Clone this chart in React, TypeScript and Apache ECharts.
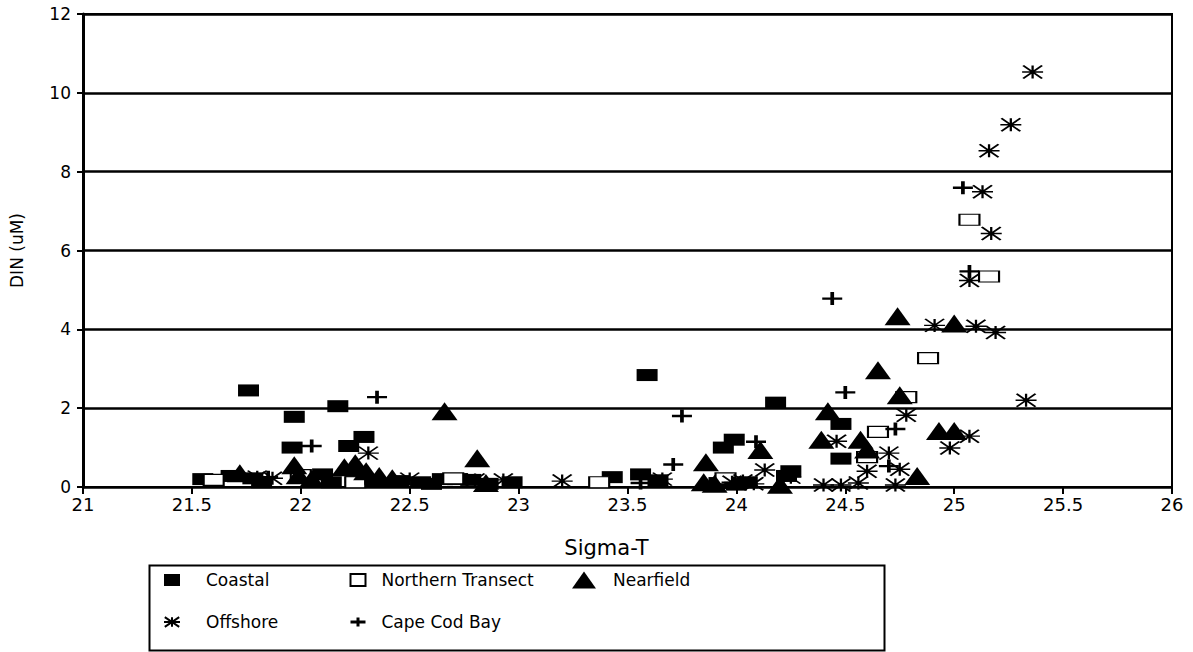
import React, { useEffect, useRef } from "react";
import * as echarts from "echarts";

// Sigma-T vs DIN (uM), by station group
const coastal: [number, number][] = [
  [21.55, 0.2], [21.68, 0.28], [21.78, 0.22], [21.82, 0.12], [21.76, 2.45], [21.97, 1.78],
  [21.96, 1.0], [22.02, 0.25], [22.1, 0.32], [22.14, 0.12], [22.17, 2.05], [22.22, 1.04],
  [22.29, 1.27], [22.25, 0.25], [22.32, 0.15], [22.45, 0.15], [22.55, 0.12], [22.6, 0.08],
  [22.65, 0.2], [22.72, 0.2], [22.78, 0.18], [22.86, 0.08], [22.97, 0.12], [23.43, 0.25],
  [23.56, 0.32], [23.59, 2.84], [23.64, 0.17], [23.94, 1.0], [23.99, 1.2], [23.92, 0.1],
  [24.0, 0.06], [24.05, 0.12], [24.18, 2.14], [24.23, 0.28], [24.25, 0.4], [24.48, 1.6],
  [24.48, 0.72],
];

const northernTransect: [number, number][] = [
  [21.6, 0.18], [22.0, 0.3], [22.25, 0.12], [22.7, 0.22], [23.37, 0.12], [23.95, 0.22],
  [24.6, 0.76], [24.65, 1.4], [24.78, 2.28], [24.88, 3.27], [25.07, 6.78], [25.16, 5.34],
];

const offshore: [number, number][] = [
  [21.8, 0.25], [21.87, 0.22], [22.12, 0.2], [22.31, 0.86], [22.5, 0.2], [22.8, 0.18],
  [22.93, 0.18], [23.2, 0.15], [23.66, 0.2], [23.98, 0.12], [24.03, 0.15], [24.08, 0.08],
  [24.13, 0.43], [24.25, 0.25], [24.4, 0.05], [24.46, 1.16], [24.48, 0.05], [24.56, 0.1],
  [24.6, 0.4], [24.7, 0.86], [24.75, 0.45], [24.73, 0.05], [24.78, 1.82], [24.91, 4.1],
  [24.98, 0.99], [25.07, 1.29], [25.07, 5.24], [25.1, 4.08], [25.13, 7.49], [25.16, 8.53],
  [25.17, 6.43], [25.19, 3.92], [25.26, 9.19], [25.33, 2.2], [25.36, 10.53],
];

const capeCodBay: [number, number][] = [
  [21.85, 0.25], [22.05, 1.04], [22.3, 0.22], [22.35, 2.28], [23.56, 0.1], [23.71, 0.57],
  [23.75, 1.8], [23.99, 0.1], [24.09, 1.15], [24.44, 4.78], [24.5, 2.4], [24.7, 0.53],
  [24.73, 1.47], [25.04, 7.59], [25.07, 5.47],
];

const nearfield: [number, number][] = [
  [21.72, 0.35], [21.97, 0.55], [21.99, 0.3], [22.05, 0.2], [22.2, 0.5], [22.25, 0.6],
  [22.3, 0.4], [22.36, 0.28], [22.42, 0.22], [22.66, 1.92], [22.81, 0.73], [22.85, 0.1],
  [23.85, 0.12], [23.86, 0.63], [23.9, 0.08], [24.11, 0.94], [24.2, 0.06], [24.39, 1.2],
  [24.42, 1.92], [24.57, 1.2], [24.6, 0.95], [24.65, 2.96], [24.74, 4.33], [24.75, 2.33],
  [24.83, 0.28], [24.93, 1.42], [25.0, 1.42], [25.0, 4.15],
];

const FONT = "DejaVu Sans";
const ASTERISK = "path://M0,6H20M10,0V12M1,0L19,12M1,12L19,0";
const PLUS = "path://M0,6H20M10,0V12";

export default function App() {
  const ref = useRef<HTMLDivElement>(null);

  useEffect(() => {
    if (!ref.current) return;
    const chart = echarts.init(ref.current, null, { renderer: "svg" });

    const legendText = { color: "#000", fontFamily: FONT, fontSize: 17, lineHeight: 20 };

    chart.setOption({
      animation: false,
      backgroundColor: "#fff",
      grid: {
        left: 81,
        right: 21,
        top: 14,
        bottom: 165,
        show: true,
        borderColor: "#000",
        borderWidth: 2,
      },
      xAxis: {
        type: "value",
        min: 21,
        max: 26,
        interval: 0.5,
        name: "Sigma-T",
        nameLocation: "middle",
        nameGap: 50,
        nameTextStyle: { color: "#000", fontFamily: FONT, fontSize: 21, padding: [0, 42, 0, 0] },
        axisLine: { show: true, onZero: false, lineStyle: { color: "#000", width: 2 } },
        axisTick: { show: true, length: 7, lineStyle: { color: "#000", width: 2 } },
        axisLabel: { color: "#000", fontFamily: FONT, fontSize: 18, margin: 8 },
        splitLine: { show: false },
      },
      yAxis: {
        type: "value",
        min: 0,
        max: 12,
        interval: 2,
        name: "DIN (uM)",
        nameLocation: "middle",
        nameGap: 58,
        nameTextStyle: { color: "#000", fontFamily: FONT, fontSize: 17 },
        axisLine: { show: true, lineStyle: { color: "#000", width: 3 } },
        axisTick: { show: true, length: 6, lineStyle: { color: "#000", width: 2 } },
        axisLabel: { color: "#000", fontFamily: FONT, fontSize: 17, margin: 12 },
        splitLine: { show: true, lineStyle: { color: "#000", width: 2.5 } },
      },
      legend: [
        {
          left: 163,
          top: 570,
          orient: "vertical",
          padding: 0,
          itemGap: 22,
          itemWidth: 16,
          itemHeight: 12,
          selectedMode: false,
          data: [
            "Coastal",
            { name: "Offshore", itemStyle: { borderWidth: 2 } },
          ],
          textStyle: { ...legendText, padding: [0, 0, 0, 21] },
        },
        {
          left: 349,
          top: 570,
          orient: "vertical",
          padding: 0,
          itemGap: 22,
          itemWidth: 15,
          itemHeight: 12,
          selectedMode: false,
          data: [
            "Northern Transect",
            { name: "Cape Cod Bay", itemStyle: { borderWidth: 3 } },
          ],
          textStyle: { ...legendText, padding: [0, 0, 0, 11] },
        },
        {
          left: 572,
          top: 570,
          orient: "vertical",
          padding: 0,
          itemWidth: 24,
          itemHeight: 17,
          selectedMode: false,
          data: ["Nearfield"],
          textStyle: { ...legendText, padding: [0, 0, 0, 12] },
        },
      ],
      graphic: [
        {
          type: "rect",
          left: 147,
          top: 563,
          shape: { width: 735, height: 85 },
          style: { fill: "none", stroke: "#000", lineWidth: 2 },
          silent: true,
        },
      ],
      series: [
        {
          name: "Coastal",
          type: "scatter",
          data: coastal,
          symbol: "rect",
          symbolSize: [21, 12],
          itemStyle: { color: "#000", opacity: 1 },
        },
        {
          name: "Northern Transect",
          type: "scatter",
          data: northernTransect,
          symbol: "rect",
          symbolSize: [20, 11],
          itemStyle: { color: "#fff", borderColor: "#000", borderWidth: 1.6, opacity: 1 },
        },
        {
          name: "Offshore",
          type: "scatter",
          data: offshore,
          symbol: ASTERISK,
          symbolSize: [21, 13],
          itemStyle: { color: "transparent", borderColor: "#000", borderWidth: 1.8, opacity: 1 },
        },
        {
          name: "Cape Cod Bay",
          type: "scatter",
          data: capeCodBay,
          symbol: PLUS,
          symbolSize: [20, 13],
          itemStyle: { color: "transparent", borderColor: "#000", borderWidth: 3, opacity: 1 },
        },
        {
          name: "Nearfield",
          type: "scatter",
          data: nearfield,
          symbol: "triangle",
          symbolSize: [26, 18],
          itemStyle: { color: "#000", opacity: 1 },
        },
      ],
    });

    return () => chart.dispose();
  }, []);

  return (
    <div
      ref={ref}
      style={{ position: "fixed", left: 0, top: 0, width: 1193, height: 652 }}
    />
  );
}
